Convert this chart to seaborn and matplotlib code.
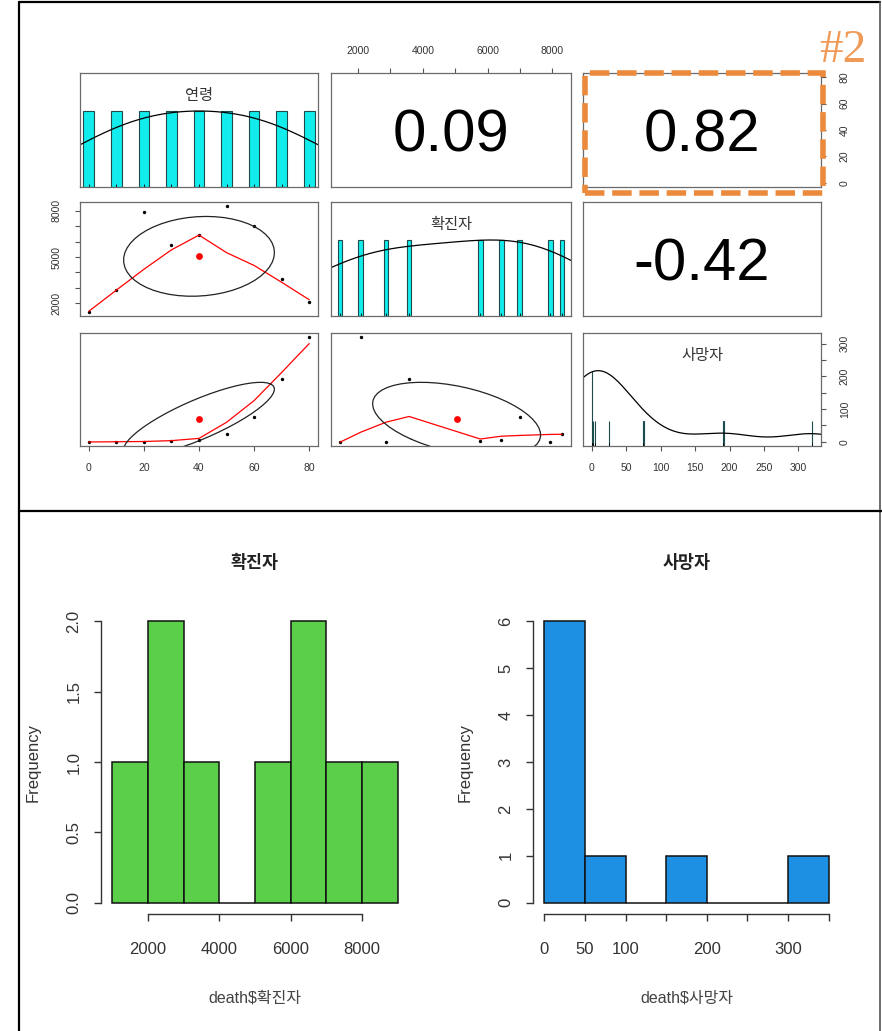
import numpy as np
import pandas as pd
import matplotlib
matplotlib.use("Agg")
import matplotlib.pyplot as plt
from matplotlib.patches import Rectangle
from matplotlib.lines import Line2D
import seaborn as sns

# ---------------- data: confirmed cases and deaths by age group ----------------
ages = [0, 10, 20, 30, 40, 50, 60, 70, 80]
cases = [1436, 2862, 7937, 5778, 6427, 8306, 6995, 3575, 2080]
deaths = [0, 0, 0, 2, 5, 25, 75, 191, 320]
var_names = ["연령", "확진자", "사망자"]

# ---------------- tick values / labels of the scatter-matrix ----------------
age_ticks = [0, 20, 40, 60, 80]
age_labels = ["0", "20", "40", "60", "80"]
case_ticks = [2000, 3000, 4000, 5000, 6000, 7000, 8000]
case_top_labels = ["2000", "", "4000", "", "6000", "", "8000"]
case_left_labels = ["2000", "", "", "5000", "", "", "8000"]
death_ticks = [0, 50, 100, 150, 200, 250, 300]
death_bottom_labels = ["0", "50", "100", "150", "200", "250", "300"]
death_right_labels = ["0", "", "100", "", "200", "", "300"]

# ---------------- histograms of the lower row ----------------
case_bins = [1000, 2000, 3000, 4000, 5000, 6000, 7000, 8000, 9000]
case_hist_xticks = [2000, 4000, 6000, 8000]
case_hist_xlabels = ["2000", "4000", "6000", "8000"]
case_hist_yticks = [0.0, 0.5, 1.0, 1.5, 2.0]
case_hist_ylabels = ["0.0", "0.5", "1.0", "1.5", "2.0"]
death_bins = [0, 50, 100, 150, 200, 250, 300, 350]
death_hist_xticks = [0, 50, 100, 150, 200, 250, 300, 350]
death_hist_xlabels = ["0", "50", "100", "", "200", "", "300", ""]
death_hist_yticks = [0, 1, 2, 3, 4, 5, 6]
death_hist_ylabels = ["0", "1", "2", "3", "4", "5", "6"]

df = pd.DataFrame({var_names[0]: ages, var_names[1]: cases, var_names[2]: deaths})

sns.set_style("white")
plt.rcParams["font.family"] = ["Liberation Sans", "Noto Sans CJK KR", "DejaVu Sans"]
KR = ["Noto Sans CJK KR", "Liberation Sans"]

W, H = 882, 1031
fig = plt.figure(figsize=(W / 100, H / 100), dpi=100)
fig.patch.set_facecolor("white")


def px_axes(x0, y0, x1, y1):
    return fig.add_axes([x0 / W, 1 - y1 / H, (x1 - x0) / W, (y1 - y0) / H])


def padded(v):
    lo, hi = float(np.min(v)), float(np.max(v))
    d = (hi - lo) * 0.04
    return lo - d, hi + d


# ---------------- statistics used by the panels ----------------
def _lowest(x, y, xs, nleft, nright, rw, userw):
    n = len(x)
    rng = x[-1] - x[0]
    h = max(xs - x[nleft], x[nright] - xs)
    h9, h1 = 0.999 * h, 0.001 * h
    w = np.zeros(n)
    a = 0.0
    j = nleft
    while j < n:
        r = abs(x[j] - xs)
        if r <= h9:
            w[j] = 1.0 if r <= h1 else (1 - (r / h) ** 3) ** 3
            if userw:
                w[j] *= rw[j]
            a += w[j]
        elif x[j] > xs:
            break
        j += 1
    nrt = j - 1
    if a <= 0:
        return 0.0, False
    sl = slice(nleft, nrt + 1)
    w[sl] /= a
    if h > 0:
        a = np.sum(w[sl] * x[sl])
        b = xs - a
        c = np.sum(w[sl] * (x[sl] - a) ** 2)
        if np.sqrt(c) > 0.001 * rng:
            b /= c
            w[sl] *= b * (x[sl] - a) + 1
    return float(np.sum(w[sl] * y[sl])), True


def lowess(x, y, f=2 / 3, iters=3):
    order = np.argsort(x, kind="stable")
    x = np.asarray(x, float)[order]
    y = np.asarray(y, float)[order]
    n = len(x)
    ns = max(min(int(f * n + 1e-7), n), 2)
    delta = 0.01 * (x[-1] - x[0])
    ys = np.zeros(n)
    rw = np.ones(n)
    for it in range(iters + 1):
        nleft, nright, last, i = 0, ns - 1, -1, 0
        while True:
            if nright < n - 1:
                if x[i] - x[nleft] > x[nright + 1] - x[i]:
                    nleft += 1
                    nright += 1
                    continue
            val, ok = _lowest(x, y, x[i], nleft, nright, rw, it > 0)
            ys[i] = val if ok else y[i]
            if last < i - 1:
                den = x[i] - x[last]
                for k in range(last + 1, i):
                    al = (x[k] - x[last]) / den
                    ys[k] = al * ys[i] + (1 - al) * ys[last]
            last = i
            cut = x[last] + delta
            i = last + 1
            while i < n:
                if x[i] > cut:
                    break
                if x[i] == x[last]:
                    ys[i] = ys[last]
                    last = i
                i += 1
            i = max(last + 1, i - 1)
            if last >= n - 1:
                break
        res = y - ys
        if it >= iters:
            break
        ar = np.abs(res)
        sc = ar.sum() / n
        cmad = 6 * np.median(ar)
        if cmad < 1e-7 * sc:
            break
        c9, c1 = 0.999 * cmad, 0.001 * cmad
        rw = np.where(ar <= c1, 1.0, np.where(ar > c9, 0.0, (1 - (ar / cmad) ** 2) ** 2))
    return x, ys


def scaled_density(v, adjust=1.2):
    v = np.asarray(v, float)
    q1, q3 = np.quantile(v, [0.25, 0.75])
    bw = 1.06 * min(np.std(v, ddof=1), (q3 - q1) / 1.34) * len(v) ** (-0.2) * adjust
    grid = np.linspace(v.min() - 3 * bw, v.max() + 3 * bw, 512)
    dens = np.exp(-0.5 * ((grid[:, None] - v[None, :]) / bw) ** 2).sum(axis=1)
    return grid, dens / dens.max()


def ellipse_xy(xm, ym, xs, ys, r, segments=51):
    ang = np.arange(segments + 1) * 2 * np.pi / segments
    circ = np.column_stack([np.cos(ang), np.sin(ang)])
    th = np.sign(r) / np.sqrt(2) if abs(r) > 0 else 1 / np.sqrt(2)
    shape = np.diag([np.sqrt(1 + r), np.sqrt(1 - r)]) @ np.array([[th, th], [-th, th]])
    e = circ @ shape
    return e[:, 0] * xs + xm, e[:, 1] * ys + ym


# ---------------- axis helpers ----------------
TICK_KW = dict(length=3.5, width=0.8, color="#555555", labelsize=7.5,
               labelcolor="#333333")


def x_axis(ax, ticks, labels, side):
    ax.set_xticks(ticks)
    ax.set_xticklabels(labels)
    top = side == "top"
    ax.tick_params(axis="x", top=top, labeltop=top, bottom=not top,
                   labelbottom=not top, pad=9, **TICK_KW)


def y_axis(ax, ticks, labels, side):
    ax.set_yticks(ticks)
    ax.set_yticklabels(labels, rotation=90, va="center")
    right = side == "right"
    ax.tick_params(axis="y", right=right, labelright=right, left=not right,
                   labelleft=not right, pad=10, **TICK_KW)


axis_spec = {
    var_names[0]: dict(ticks=age_ticks, bottom=age_labels, right=age_labels),
    var_names[1]: dict(ticks=case_ticks, top=case_top_labels, left=case_left_labels),
    var_names[2]: dict(ticks=death_ticks, bottom=death_bottom_labels, right=death_right_labels),
}

col_px = [(80, 318), (331, 571), (583, 821)]
row_px = [(73, 187), (202, 316), (333, 446)]

# ---------------- scatter-plot matrix ----------------
for i in range(3):
    for j in range(3):
        ax = px_axes(col_px[j][0], row_px[i][0], col_px[j][1], row_px[i][1])
        xn, yn = var_names[j], var_names[i]
        xv = df[xn].to_numpy(float)
        yv = df[yn].to_numpy(float)

        if i == j:
            vals, cnt = np.unique(xv, return_counts=True)
            ib = np.min(np.diff(vals)) * (len(vals) - 1) / 41
            ax.bar(vals, cnt / cnt.max(), width=2 * ib, color="#12ecec",
                   edgecolor="#1d4a4a", linewidth=0.8, align="center")
            g, d = scaled_density(xv)
            sns.lineplot(x=g, y=d, ax=ax, color="black", linewidth=0.9)
            sns.rugplot(x=xv, ax=ax, height=0.03, color="black", linewidth=0.6,
                        expand_margins=False)
            ax.set_ylim(0, 1.5)
            ax.text(0.5, 0.8, xn, transform=ax.transAxes, ha="center", va="center",
                    fontsize=11, color="#333333", family=KR)
        elif i > j:
            sns.scatterplot(x=xv, y=yv, ax=ax, color="black", s=6, linewidth=0)
            lx, ly = lowess(xv, yv)
            sns.lineplot(x=lx, y=ly, ax=ax, color="red", linewidth=0.9, sort=False)
            r = np.corrcoef(xv, yv)[0, 1]
            ex, ey = ellipse_xy(xv.mean(), yv.mean(), xv.std(ddof=1), yv.std(ddof=1), r)
            ax.plot(ex, ey, color="#222222", linewidth=0.9)
            sns.scatterplot(x=[xv.mean()], y=[yv.mean()], ax=ax, color="red", s=24,
                            linewidth=0)
            ax.set_ylim(padded(yv))
        else:
            r = np.corrcoef(xv, yv)[0, 1]
            ax.text(0.5, 0.5, f"{r:.2f}", transform=ax.transAxes, ha="center",
                    va="center_baseline", fontsize=43, color="black")
            ax.set_ylim(padded(yv))

        ax.set_xlim(padded(xv))
        ax.set_xlabel("")
        ax.set_ylabel("")
        ax.set_xticks([])
        ax.set_yticks([])
        for s in ax.spines.values():
            s.set_color("#6a6a6a")
            s.set_linewidth(0.9)

        xs_ = axis_spec[xn]
        if i == 0 and j % 2 == 1:
            x_axis(ax, xs_["ticks"], xs_["top"], "top")
        if i == 2 and j % 2 == 0:
            x_axis(ax, xs_["ticks"], xs_["bottom"], "bottom")
        ys_ = axis_spec[yn]
        if j == 0 and i % 2 == 1:
            y_axis(ax, ys_["ticks"], ys_["left"], "left")
        if j == 2 and i % 2 == 0:
            if i == j:
                tw = ax.twinx()
                tw.set_ylim(padded(yv))
                for s in tw.spines.values():
                    s.set_visible(False)
                y_axis(tw, ys_["ticks"], ys_["right"], "right")
            else:
                y_axis(ax, ys_["ticks"], ys_["right"], "right")


# ---------------- lower histograms ----------------
def r_hist(rect, values, bins, color, title, xlab, xticks, xlabels, yticks, ylabels):
    ax = px_axes(*rect)
    sns.histplot(x=values, bins=bins, color=color, edgecolor="#111111",
                 linewidth=1.1, alpha=1, ax=ax)
    counts, _ = np.histogram(values, bins=bins)
    ax.set_xlim(padded(bins))
    ax.set_ylim(padded([0, counts.max()]))
    ax.set_xlabel("")
    ax.set_ylabel("")
    for side in ("top", "right"):
        ax.spines[side].set_visible(False)
    ax.spines["left"].set_bounds(yticks[0], yticks[-1])
    ax.spines["bottom"].set_bounds(xticks[0], xticks[-1])
    for side in ("left", "bottom"):
        ax.spines[side].set_color("#333333")
        ax.spines[side].set_linewidth(1.0)
    ax.set_xticks(xticks)
    ax.set_xticklabels(xlabels)
    ax.set_yticks(yticks)
    ax.set_yticklabels(ylabels, rotation=90, va="center")
    ax.tick_params(axis="x", length=5, width=1, color="#333333", labelsize=12,
                   labelcolor="#333333", pad=15, bottom=True)
    ax.tick_params(axis="y", length=5, width=1, color="#333333", labelsize=12,
                   labelcolor="#333333", pad=9, left=True)
    h = rect[3] - rect[1]
    ax.text(0.5, 1 + 47 / h, title, transform=ax.transAxes, ha="center", va="center",
            fontsize=12.5, fontweight="bold", color="#222222", family=KR)
    ax.text(0.5, -84 / h, xlab, transform=ax.transAxes, ha="center", va="center",
            fontsize=11.5, color="#444444")
    ax.text(-68 / (rect[2] - rect[0]), 0.5, "Frequency", transform=ax.transAxes,
            ha="center", va="center", rotation=90, fontsize=12, color="#333333")
    return ax


r_hist((101, 610, 409, 914), cases, case_bins, "#5ccf4a", var_names[1],
       "death$" + var_names[1], case_hist_xticks, case_hist_xlabels,
       case_hist_yticks, case_hist_ylabels)
r_hist((533, 610, 840, 914), deaths, death_bins, "#1e90e4", var_names[2],
       "death$" + var_names[2], death_hist_xticks, death_hist_xlabels,
       death_hist_yticks, death_hist_ylabels)


# ---------------- frame, divider and highlight ----------------
def fig_line(x0, y0, x1, y1, **kw):
    fig.add_artist(Line2D([x0 / W, x1 / W], [1 - y0 / H, 1 - y1 / H],
                          transform=fig.transFigure, **kw))


fig_line(19, 2, 880, 2, color="black", linewidth=1.6)
fig_line(19, 2, 19, 1031, color="black", linewidth=1.6)
fig_line(880, 2, 880, 1031, color="#555555", linewidth=1.2)
fig_line(19, 511, 882, 511, color="black", linewidth=1.6)

orange = "#ec8a3c"
fig.add_artist(Rectangle((585 / W, 1 - 193 / H), (823 - 585) / W, (193 - 73) / H,
                         transform=fig.transFigure, fill=False, edgecolor=orange,
                         linewidth=4, linestyle=(0, (3.5, 1.4))))
fig.text(843 / W, 1 - 51 / H, "#2", ha="center", va="center", fontsize=34,
         color="#f09a58", family=["Liberation Serif", "DejaVu Serif"])

fig.savefig("out.png", dpi=100, facecolor="white")
